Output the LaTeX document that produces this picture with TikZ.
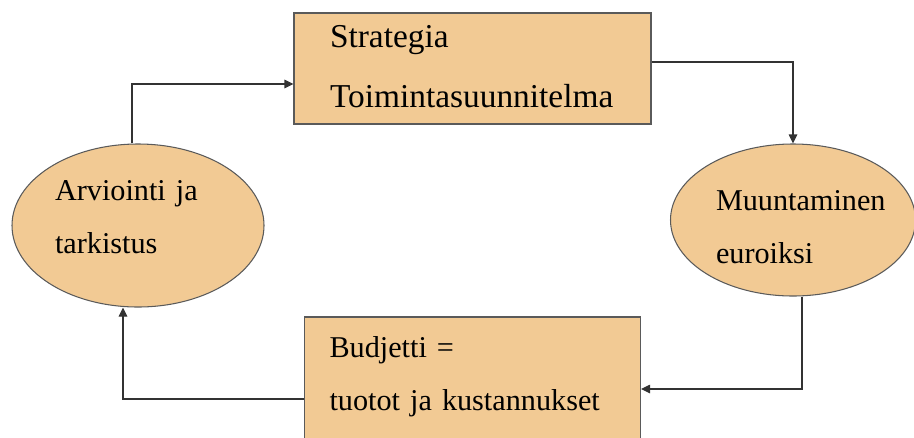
\documentclass[tikz,border=0pt]{standalone}
\usepackage{fontspec}
\setmainfont{Liberation Serif}
\usetikzlibrary{arrows.meta, positioning, shapes.geometric}
\definecolor{boxfill}{RGB}{242,202,148}
\definecolor{edgegray}{RGB}{90,90,90}

\begin{document}
\begin{tikzpicture}[on grid, box/.style={draw=edgegray, fill=boxfill, line width=0.6pt, inner sep=0pt, align=left}, oval/.style={box, ellipse}, arrow/.style={-{Triangle[length=1.8mm, width=1.7mm]}, draw=black!80, line width=0.6pt}]

\path[use as bounding box, clip] (0,0) rectangle (18.28,-8.74);

\node[box, minimum width=7.14cm, minimum height=2.22cm, text width=5.7cm, text height=0.46cm, text depth=1.32cm, font=\fontsize{19}{34.7}\selectfont] (strategia) at (9.45,-1.37) {Strategia\\Toimintasuunnitelma};
\node[oval, below right=3.03cm and 6.41cm of strategia, minimum width=4.9cm, minimum height=3.04cm, text width=3.08cm, text height=0.4cm, text depth=0.8cm, font=\fontsize{17.2}{30.7}\selectfont] (muunto) {Muuntaminen\\euroiksi};
\node[box, below=6.37cm of strategia, minimum width=6.72cm, minimum height=2.8cm, text width=5.72cm, text height=0.4cm, text depth=1.6cm, font=\fontsize{17.2}{30.7}\selectfont] (budjetti) {Budjetti =\\tuotot ja kustannukset};
\node[oval, below left=3.14cm and 6.69cm of strategia, minimum width=5.04cm, minimum height=3.26cm, text width=3.32cm, text height=0.4cm, text depth=1.42cm, font=\fontsize{17.2}{30.7}\selectfont] (arviointi) {Arviointi ja\\tarkistus};

\draw[arrow] ([xshift=-0.12cm]arviointi.north) |- ([yshift=-0.31cm]strategia.west);
\draw[arrow] ([yshift=0.13cm]strategia.east) -| (muunto.north);
\draw[arrow] ([xshift=0.18cm]muunto.south) |- ([yshift=-0.04cm]budjetti.east);
\draw[arrow] ([yshift=-0.24cm]budjetti.west) -| ([xshift=-0.3cm]arviointi.south);

\end{tikzpicture}
\end{document}
